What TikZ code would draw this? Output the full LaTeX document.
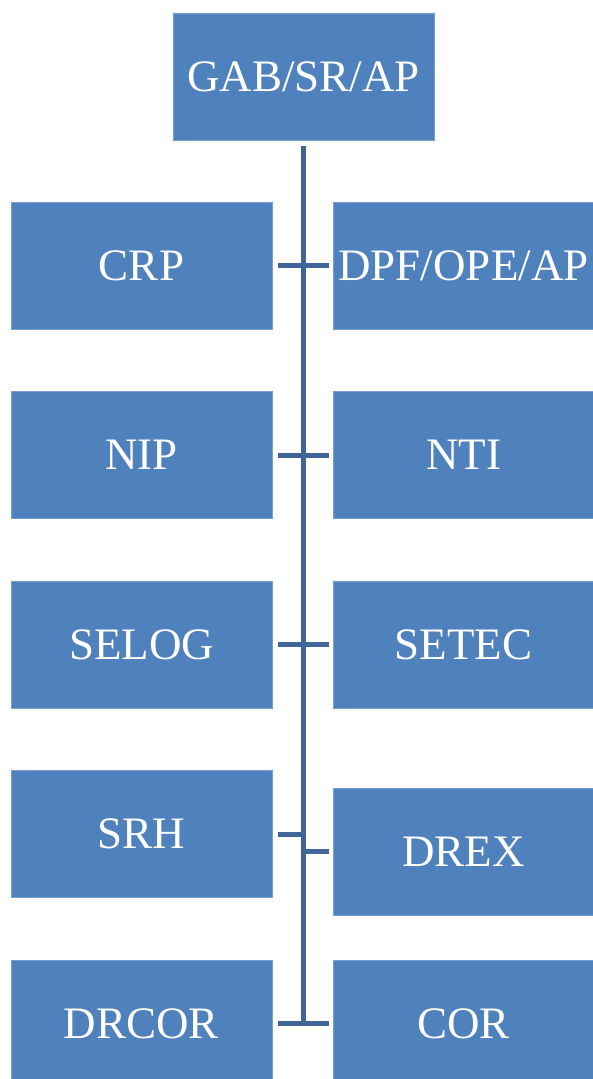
\documentclass[tikz,border=0pt]{standalone}
\usepackage{fontspec}
\setmainfont{Liberation Serif}
\definecolor{boxblue}{RGB}{79,129,189}
\definecolor{boxedge}{RGB}{120,158,208}
\definecolor{linkblue}{RGB}{64,101,150}
\begin{document}
\begin{tikzpicture}[x=1pt,y=-1pt,
  unit/.style={rectangle, fill=boxblue, draw=boxedge, line width=0.6pt,
    minimum width=261pt, minimum height=127pt, inner sep=0pt,
    text=white, font=\fontsize{45}{50}\selectfont},
  link/.style={draw=linkblue, line width=5pt}]
\useasboundingbox (0,0) rectangle (593,1079);
\begin{scope}
\clip (0,0) rectangle (593,1079);
\node[unit] (gab) at (303.5,76.5) {GAB/SR/AP};
\node[unit] (crp) at (141.5,265.5) {CRP};
\node[unit] (dpf) at (463.5,265.5) {DPF/OPE/AP};
\node[unit] (nip) at (141.5,455) {NIP};
\node[unit] (nti) at (463.5,455) {NTI};
\node[unit] (selog) at (141.5,644.5) {SELOG};
\node[unit] (setec) at (463.5,644.5) {SETEC};
\node[unit] (srh) at (141.5,833.5) {SRH};
\node[unit] (drex) at (463.5,851.5) {DREX};
\node[unit] (drcor) at (141.5,1023.5) {DRCOR};
\node[unit] (cor) at (463.5,1023.5) {COR};
\end{scope}
\coordinate (top) at (303,146);
\coordinate (bot) at (303,1026);
\coordinate (l1) at (278,265.5); \coordinate (r1) at (329,265.5);
\coordinate (l2) at (278,455);   \coordinate (r2) at (329,455);
\coordinate (l3) at (278,644.5); \coordinate (r3) at (329,644.5);
\coordinate (l4) at (278,834.5); \coordinate (m4) at (303,834.5);
\coordinate (m4b) at (303,851.5); \coordinate (r4) at (329,851.5);
\coordinate (l5) at (278,1023.5); \coordinate (r5) at (329,1023.5);
\draw[link] (top) -- (bot);
\draw[link] (l1) -- (r1);
\draw[link] (l2) -- (r2);
\draw[link] (l3) -- (r3);
\draw[link] (l4) -- (m4);
\draw[link] (m4b) -- (r4);
\draw[link] (l5) -- (r5);
\end{tikzpicture}
\end{document}
